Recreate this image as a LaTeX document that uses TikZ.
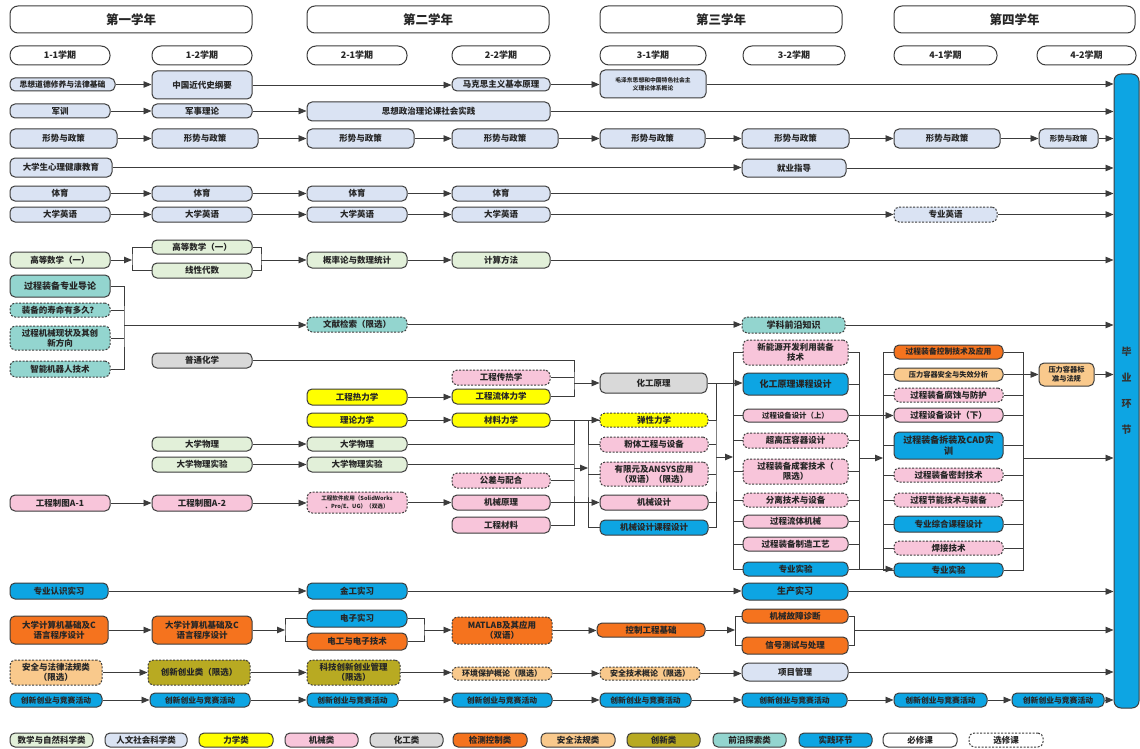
\documentclass[tikz,border=0pt]{standalone}
\usepackage{fontspec}
\setmainfont{Noto Sans CJK SC}
\usetikzlibrary{arrows.meta}
\definecolor{cgreen}{HTML}{E2F0D9}
\definecolor{chum}{HTML}{DAE3F3}
\definecolor{cyel}{HTML}{FFFF00}
\definecolor{cpink}{HTML}{F8C5DA}
\definecolor{cgray}{HTML}{D9D9D9}
\definecolor{corg}{HTML}{F5731E}
\definecolor{clor}{HTML}{F9C98C}
\definecolor{coli}{HTML}{B8AA22}
\definecolor{cteal}{HTML}{93D5CF}
\definecolor{cblue}{HTML}{0DA5E3}
\definecolor{cbd}{HTML}{3C3C3C}
\newcommand\mybox[7]{%
  \pgfmathsetmacro\bxw{#4-#2}%
  \pgfmathsetmacro\bxh{#5-#3}%
  \pgfmathsetmacro\bxx{(#2+#4)/2}%
  \pgfmathsetmacro\bxy{(#3+#5)/2}%
  \node[#6, minimum width=\bxw pt, minimum height=\bxh pt] (#1) at (\bxx,\bxy) {#7};%
}
\newcommand\harr[2]{\draw[arr] (#1.east) -- (#1.east -| #2.west);}
\newcommand\tobar[1]{\draw[arr] (#1.east) -- (#1.east -| grad.west);}
\newcommand\hE[2]{\draw[ln] (#1.east) -- (#1.east -| #2);}
\newcommand\hW[2]{\draw[ln] (#1.west) -- (#1.west -| #2);}
\begin{document}
\begin{tikzpicture}[x=1pt,y=-1pt,
  bx/.style={draw=cbd, line width=1pt, rounded corners=5pt, inner sep=1pt, align=center,
     font=\bfseries\fontsize{8.5}{10}\selectfont, text=black!85},
  kopt/.style={dash pattern=on 2pt off 1.5pt},
  kmat/.style={bx, fill=cgreen},
  khum/.style={bx, fill=chum},
  kmech/.style={bx, fill=cyel},
  kmac/.style={bx, fill=cpink},
  kchem/.style={bx, fill=cgray},
  kctl/.style={bx, fill=corg},
  ksaf/.style={bx, fill=clor},
  kinn/.style={bx, fill=coli},
  kfro/.style={bx, fill=cteal},
  kprc/.style={bx, fill=cblue},
  kwht/.style={bx, fill=white},
  kyear/.style={draw=cbd, line width=1pt, rounded corners=8pt, fill=white, font=\bfseries\fontsize{12.5}{14}\selectfont, text=black!85},
  ksem/.style={draw=cbd, line width=1pt, rounded corners=9pt, fill=white, font=\bfseries\fontsize{9}{11}\selectfont, text=black!85},
  kgrad/.style={draw=cbd, line width=1pt, rounded corners=7pt, fill=cblue, align=center, inner sep=0pt, font=\bfseries\fontsize{10}{26}\selectfont, text=black!80},
  ln/.style={draw=cbd, line width=0.9pt},
  arr/.style={ln, -{Triangle[length=8pt,width=6.5pt]}}
]
\useasboundingbox (0,0) rectangle (1140,749);
\fill[white] (0,0) rectangle (1140,749);

% headers
\mybox{Y1}{10}{6}{252}{33}{kyear}{第一学年}
\mybox{Y2}{307}{6}{549}{33}{kyear}{第二学年}
\mybox{Y3}{600}{6}{842}{33}{kyear}{第三学年}
\mybox{Y4}{894}{6}{1135}{33}{kyear}{第四学年}
\mybox{S11}{10}{46}{110}{65}{ksem}{1-1学期}
\mybox{S12}{152}{46}{252}{65}{ksem}{1-2学期}
\mybox{S21}{307}{46}{407}{65}{ksem}{2-1学期}
\mybox{S22}{452}{46}{550}{65}{ksem}{2-2学期}
\mybox{S31}{600}{46}{706}{65}{ksem}{3-1学期}
\mybox{S32}{743}{46}{845}{65}{ksem}{3-2学期}
\mybox{S41}{894}{46}{997}{65}{ksem}{4-1学期}
\mybox{S42}{1037}{46}{1136}{65}{ksem}{4-2学期}

\mybox{grad}{1114}{74}{1139}{708}{kgrad}{毕\\业\\环\\节}

% row 1
\mybox{ra}{10}{78}{115}{91}{khum,font=\bfseries\fontsize{7.8}{9}\selectfont}{思想道德修养与法律基础}
\mybox{rb}{152}{71}{252}{99}{khum}{中国近代史纲要}
\mybox{rc}{452}{78}{550}{91}{khum}{马克思主义基本原理}
\mybox{rd}{600}{70}{706}{98}{khum,font=\bfseries\fontsize{5.8}{8}\selectfont}{毛泽东思想和中国特色社会主\\义理论体系概论}
\harr{ra}{rb}\harr{rb}{rc}\harr{rc}{rd}\tobar{rd}

% row 2
\mybox{sa}{10}{104}{110}{118}{khum}{军训}
\mybox{sb}{152}{104}{252}{118}{khum}{军事理论}
\mybox{sc}{307}{102}{550}{121}{khum}{思想政治理论课社会实践}
\harr{sa}{sb}\harr{sb}{sc}\tobar{sc}

% row 3
\mybox{ta}{10}{129}{117}{148}{khum}{形势与政策}
\mybox{tb}{152}{129}{258}{148}{khum}{形势与政策}
\mybox{tc}{307}{129}{414}{148}{khum}{形势与政策}
\mybox{td}{452}{129}{558}{148}{khum}{形势与政策}
\mybox{te}{600}{129}{705}{148}{khum}{形势与政策}
\mybox{tf}{742}{129}{849}{148}{khum}{形势与政策}
\mybox{tg}{894}{129}{1000}{148}{khum}{形势与政策}
\mybox{th}{1039}{129}{1098}{148}{khum,font=\bfseries\fontsize{7.5}{9}\selectfont}{形势与政策}
\harr{ta}{tb}\harr{tb}{tc}\harr{tc}{td}\harr{td}{te}\harr{te}{tf}\harr{tf}{tg}\harr{tg}{th}\tobar{th}

% row 4
\mybox{ua}{10}{158}{112}{177}{khum}{大学生心理健康教育}
\mybox{ub}{742}{159}{846}{177}{khum}{就业指导}
\harr{ua}{ub}\tobar{ub}

% row 5
\mybox{pa}{10}{186}{110}{201}{khum}{体育}
\mybox{pb}{152}{186}{252}{201}{khum}{体育}
\mybox{pc}{307}{186}{407}{201}{khum}{体育}
\mybox{pd}{452}{186}{550}{201}{khum}{体育}
\harr{pa}{pb}\harr{pb}{pc}\harr{pc}{pd}\tobar{pd}

% row 6
\mybox{ya}{10}{207}{110}{222}{khum}{大学英语}
\mybox{yb}{152}{207}{252}{222}{khum}{大学英语}
\mybox{yc}{307}{207}{407}{222}{khum}{大学英语}
\mybox{yd}{452}{207}{550}{222}{khum}{大学英语}
\mybox{ye}{894}{207}{997}{222}{khum,kopt}{专业英语}
\harr{ya}{yb}\harr{yb}{yc}\harr{yc}{yd}\harr{yd}{ye}\tobar{ye}

% row 7 maths
\mybox{m1}{10}{252}{110}{268}{kmat}{高等数学（一）}
\mybox{m2}{152}{240}{252}{254}{kmat}{高等数学（一）}
\mybox{m3}{152}{263}{252}{278}{kmat}{线性代数}
\mybox{m4}{307}{252}{407}{268}{kmat}{概率论与数理统计}
\mybox{m5}{452}{252}{550}{268}{kmat}{计算方法}
\coordinate (f1) at (132,260);
\coordinate (j1) at (261,260);
\draw[arr] (m1.east) -- (m1.east -| f1);
\draw[ln] (m2.west) -| (f1) |- (m3.west);
\draw[ln] (m2.east) -| (j1) |- (m3.east);
\draw[arr] (j1) -- (j1 -| m4.west);
\harr{m4}{m5}\tobar{m5}

% frontier group
\mybox{q1}{10}{275}{110}{297}{kfro,font=\bfseries\fontsize{9}{10}\selectfont}{过程装备专业导论}
\mybox{q2}{10}{303}{110}{317}{kfro,kopt}{装备的寿命有多久？}
\mybox{q3}{10}{326}{110}{350}{kfro,kopt}{过程机械现状及其创\\新方向}
\mybox{q4}{10}{361}{110}{377}{kfro,kopt}{智能机器人技术}
\mybox{q5}{307}{317}{407}{332}{kfro,kopt}{文献检索（限选）}
\mybox{q6}{742}{317}{845}{333}{kfro,kopt,font=\bfseries\fontsize{9}{10}\selectfont}{学科前沿知识}
\coordinate (j2) at (124,325);
\draw[ln] (q1.east) -| (j2) |- (q4.east);
\hE{q2}{j2}\hE{q3}{j2}
\draw[arr] (j2) -- (j2 -| q5.west);
\harr{q5}{q6}\tobar{q6}

% chemistry / mechanics
\mybox{c1}{152}{353}{252}{368}{kchem}{普通化学}
\mybox{h2}{452}{370}{550}{385}{kmac,kopt}{工程传热学}
\mybox{h1}{307}{389}{407}{405}{kmech}{工程热力学}
\mybox{h3}{452}{389}{550}{404}{kmech}{工程流体力学}
\mybox{t1}{307}{413}{407}{427}{kmech}{理论力学}
\mybox{t2}{452}{413}{550}{427}{kmech}{材料力学}
\mybox{p1}{152}{437}{252}{451}{kmat}{大学物理}
\mybox{p2}{307}{437}{407}{451}{kmat}{大学物理}
\mybox{p3}{152}{457}{252}{472}{kmat}{大学物理实验}
\mybox{p4}{307}{457}{407}{472}{kmat}{大学物理实验}
\mybox{d1}{10}{495}{110}{511}{kmac}{工程制图A-1}
\mybox{d2}{152}{495}{252}{511}{kmac}{工程制图A-2}
\mybox{d3}{307}{492}{407}{513}{kmac,kopt,font=\bfseries\fontsize{5.6}{8}\selectfont}{工程软件应用（SolidWorks\\、Pro/E、UG）（双选）}
\mybox{k1}{452}{473}{550}{488}{kmac,kopt}{公差与配合}
\mybox{k2}{452}{495}{550}{510}{kmac}{机械原理}
\mybox{k3}{452}{517}{550}{533}{kmac}{工程材料}
\harr{h1}{h3}\harr{t1}{t2}\harr{p1}{p2}\harr{p3}{p4}
\harr{d1}{d2}\harr{d2}{d3}\harr{d3}{k2}

\mybox{e1}{600}{373}{707}{393}{kchem}{化工原理}
\mybox{e2}{600}{413}{708}{427}{kmech,kopt}{弹性力学}
\mybox{e3}{600}{437}{708}{452}{kmac,kopt}{粉体工程与设备}
\mybox{e4}{600}{462}{708}{486}{kmac,kopt}{有限元及ANSYS应用\\（双语）（限选）}
\mybox{e5}{600}{495}{708}{510}{kmac}{机械设计}
\mybox{e6}{600}{520}{708}{535}{kprc}{机械设计课程设计}

\coordinate (cA) at (574,383);
\draw[ln] (c1.east) -| (cA) |- (h3.east);
\hE{h2}{cA}
\draw[arr] (cA) -- (cA -| e1.west);

\coordinate (bA) at (574,468);
\coordinate (bB) at (588,468);
\draw[ln] (t2.east) -| (bA) |- (k3.east);
\hE{p2}{bA}\hE{p4}{bA}\hE{k1}{bA}
\draw[arr] (bA) -- (bB);
\draw[arr] (t2.east) -- (t2.east -| e2.west);
\draw[arr] (k2.east) -- (k2.east -| e5.west);
\draw[ln] (e2.west) -| (bB) |- (e6.west);
\hW{e3}{bB}\hW{e4}{bB}

% column 6 group
\mybox{g1}{743}{340}{848}{365}{kmac,kopt}{新能源开发利用装备\\技术}
\mybox{g2}{743}{373}{848}{395}{kprc,font=\bfseries\fontsize{9}{10}\selectfont}{化工原理课程设计}
\mybox{g3}{743}{409}{848}{422}{kmac,font=\bfseries\fontsize{7.4}{9}\selectfont}{过程设备设计（上）}
\mybox{g4}{743}{433}{848}{448}{kmac,kopt}{超高压容器设计}
\mybox{g5}{743}{459}{848}{484}{kmac,kopt}{过程装备成套技术（\\限选）}
\mybox{g6}{743}{493}{848}{507}{kmac,kopt}{分离技术与设备}
\mybox{g7}{743}{515}{848}{528}{kmac}{过程流体机械}
\mybox{g8}{743}{537}{848}{551}{kmac}{过程装备制造工艺}
\mybox{g9}{743}{562}{848}{576}{kprc}{专业实验}

\coordinate (cC) at (716,457);
\coordinate (cD) at (733,457);
\draw[ln] (e1.east) -| (cC) |- (e6.east);
\hE{e2}{cC}\hE{e3}{cC}\hE{e4}{cC}\hE{e5}{cC}
\draw[arr] (cC) -- (cD);
\draw[arr] (e1.east) -- (e1.east -| g2.west);
\draw[ln] (g1.west) -| (cD) |- (g9.west);
\hW{g3}{cD}\hW{g4}{cD}\hW{g5}{cD}\hW{g6}{cD}\hW{g7}{cD}\hW{g8}{cD}

% column 7 group
\mybox{n1}{894}{345}{1003}{359}{kctl,font=\bfseries\fontsize{7.8}{9}\selectfont}{过程装备控制技术及应用}
\mybox{n2}{894}{368}{1003}{381}{ksaf,font=\bfseries\fontsize{7.2}{9}\selectfont}{压力容器安全与失效分析}
\mybox{n3}{894}{388}{1003}{402}{kmac,kopt}{过程装备腐蚀与防护}
\mybox{n4}{894}{408}{1003}{422}{kmac}{过程设备设计（下）}
\mybox{n5}{894}{432}{1003}{459}{kprc,font=\bfseries\fontsize{9}{11}\selectfont}{过程装备拆装及CAD实\\训}
\mybox{n6}{894}{468}{1003}{482}{kmac,kopt}{过程装备密封技术}
\mybox{n7}{894}{493}{1003}{507}{kmac,kopt}{过程节能技术与装备}
\mybox{n8}{894}{516}{1003}{532}{kprc}{专业综合课程设计}
\mybox{n9}{894}{541}{1003}{555}{kmac,kopt}{焊接技术}
\mybox{n10}{894}{563}{1003}{577}{kprc}{专业实验}
\mybox{pr}{1039}{363}{1094}{386}{ksaf,font=\bfseries\fontsize{7.2}{9}\selectfont}{压力容器标\\准与法规}

\coordinate (cE) at (859,458);
\coordinate (cF) at (883,458);
\draw[ln] (g1.east) -| (cE) |- (g9.east);
\hE{g2}{cE}\hE{g4}{cE}\hE{g5}{cE}\hE{g6}{cE}\hE{g7}{cE}\hE{g8}{cE}
\draw[arr] (cE) -- (cF);
\draw[arr] (g3.east) -- (g3.east -| n4.west);
\draw[arr] (g9.east) -- (g9.east -| n10.west);
\draw[ln] (n1.west) -| (cF) |- (n10.west);
\hW{n2}{cF}\hW{n3}{cF}\hW{n5}{cF}\hW{n6}{cF}\hW{n7}{cF}\hW{n8}{cF}\hW{n9}{cF}
\coordinate (cG) at (1023,458);
\draw[ln] (n1.east) -| (cG) |- (n10.east);
\hE{n3}{cG}\hE{n4}{cG}\hE{n5}{cG}\hE{n6}{cG}\hE{n7}{cG}\hE{n8}{cG}\hE{n9}{cG}
\draw[arr] (n2.east) -- (n2.east -| pr.west);
\tobar{pr}
\draw[arr] (cG) -- (cG -| grad.west);

% practice rows
\mybox{x1}{10}{583}{108}{599}{kprc}{专业认识实习}
\mybox{x2}{307}{583}{407}{599}{kprc}{金工实习}
\mybox{x3}{742}{583}{848}{600}{kprc,rounded corners=7pt,font=\bfseries\fontsize{9}{10}\selectfont}{生产实习}
\harr{x1}{x2}\harr{x2}{x3}\tobar{x3}

\mybox{u1}{10}{616}{108}{644}{kctl}{大学计算机基础及C\\语言程序设计}
\mybox{u2}{152}{616}{252}{644}{kctl}{大学计算机基础及C\\语言程序设计}
\mybox{u3}{307}{610}{407}{627}{kprc,rounded corners=7pt}{电子实习}
\mybox{u4}{307}{633}{407}{650}{kctl}{电工与电子技术}
\mybox{u5}{452}{617}{552}{644}{kctl,kopt}{MATLAB及其应用\\（双语）}
\mybox{u6}{597}{623}{705}{637}{kctl}{控制工程基础}
\mybox{u7}{742}{609}{848}{623}{kctl}{机械故障诊断}
\mybox{u8}{742}{637}{848}{654}{kctl}{信号测试与处理}
\harr{u1}{u2}
\coordinate (f2) at (285,630);
\draw[arr] (u2.east) -- (u2.east -| f2);
\draw[ln] (u3.west) -| (f2) |- (u4.west);
\coordinate (j3) at (424,630);
\draw[ln] (u3.east) -| (j3) |- (u4.east);
\draw[arr] (j3) -- (j3 -| u5.west);
\harr{u5}{u6}
\coordinate (f3) at (735,630);
\draw[arr] (u6.east) -- (u6.east -| f3);
\draw[ln] (u7.west) -| (f3) |- (u8.west);
\coordinate (j4) at (854,630);
\draw[ln] (u7.east) -| (j4) |- (u8.east);
\draw[arr] (j4) -- (j4 -| grad.west);

\mybox{v1}{10}{660}{102}{685}{ksaf,kopt}{安全与法律法规类\\（限选）}
\mybox{v2}{148}{660}{250}{685}{kinn,kopt}{创新创业类（限选）}
\mybox{v3}{307}{660}{400}{685}{kinn,kopt}{科技创新创业管理\\（限选）}
\mybox{v4}{452}{667}{552}{680}{ksaf,kopt,font=\bfseries\fontsize{8}{9}\selectfont}{环境保护概论（限选）}
\mybox{v5}{600}{667}{700}{680}{ksaf,kopt,font=\bfseries\fontsize{8}{9}\selectfont}{安全技术概论（限选）}
\mybox{v6}{742}{663}{848}{681}{khum,rounded corners=7pt}{项目管理}
\harr{v1}{v2}\harr{v2}{v3}\harr{v3}{v4}\harr{v4}{v5}\harr{v5}{v6}\tobar{v6}

\mybox{w1}{10}{693}{102}{707}{kprc,font=\bfseries\fontsize{7.8}{9}\selectfont}{创新创业与竞赛活动}
\mybox{w2}{150}{693}{250}{707}{kprc,font=\bfseries\fontsize{7.8}{9}\selectfont}{创新创业与竞赛活动}
\mybox{w3}{307}{693}{398}{707}{kprc,font=\bfseries\fontsize{7.8}{9}\selectfont}{创新创业与竞赛活动}
\mybox{w4}{452}{693}{552}{707}{kprc,font=\bfseries\fontsize{7.8}{9}\selectfont}{创新创业与竞赛活动}
\mybox{w5}{600}{693}{691}{707}{kprc,font=\bfseries\fontsize{7.8}{9}\selectfont}{创新创业与竞赛活动}
\mybox{w6}{742}{693}{847}{707}{kprc,font=\bfseries\fontsize{7.8}{9}\selectfont}{创新创业与竞赛活动}
\mybox{w7}{894}{693}{987}{707}{kprc,font=\bfseries\fontsize{7.8}{9}\selectfont}{创新创业与竞赛活动}
\mybox{w8}{1012}{693}{1104}{707}{kprc,font=\bfseries\fontsize{7.8}{9}\selectfont}{创新创业与竞赛活动}
\harr{w1}{w2}\harr{w2}{w3}\harr{w3}{w4}\harr{w4}{w5}\harr{w5}{w6}\harr{w6}{w7}\harr{w7}{w8}\tobar{w8}

% legend
\mybox{L1}{10}{733}{93}{747}{kmat}{数学与自然科学类}
\mybox{L2}{105}{733}{187}{747}{khum}{人文社会科学类}
\mybox{L3}{199}{733}{273}{747}{kmech}{力学类}
\mybox{L4}{285}{733}{358}{747}{kmac}{机械类}
\mybox{L5}{370}{733}{443}{747}{kchem}{化工类}
\mybox{L6}{453}{733}{527}{747}{kctl}{检测控制类}
\mybox{L7}{541}{733}{615}{747}{ksaf}{安全法规类}
\mybox{L8}{627}{733}{700}{747}{kinn}{创新类}
\mybox{L9}{713}{733}{786}{747}{kfro}{前沿探索类}
\mybox{L10}{799}{733}{872}{747}{kprc}{实践环节}
\mybox{L11}{883}{733}{957}{747}{kwht}{必修课}
\mybox{L12}{969}{733}{1043}{747}{kwht,kopt}{选修课}
\end{tikzpicture}
\end{document}
